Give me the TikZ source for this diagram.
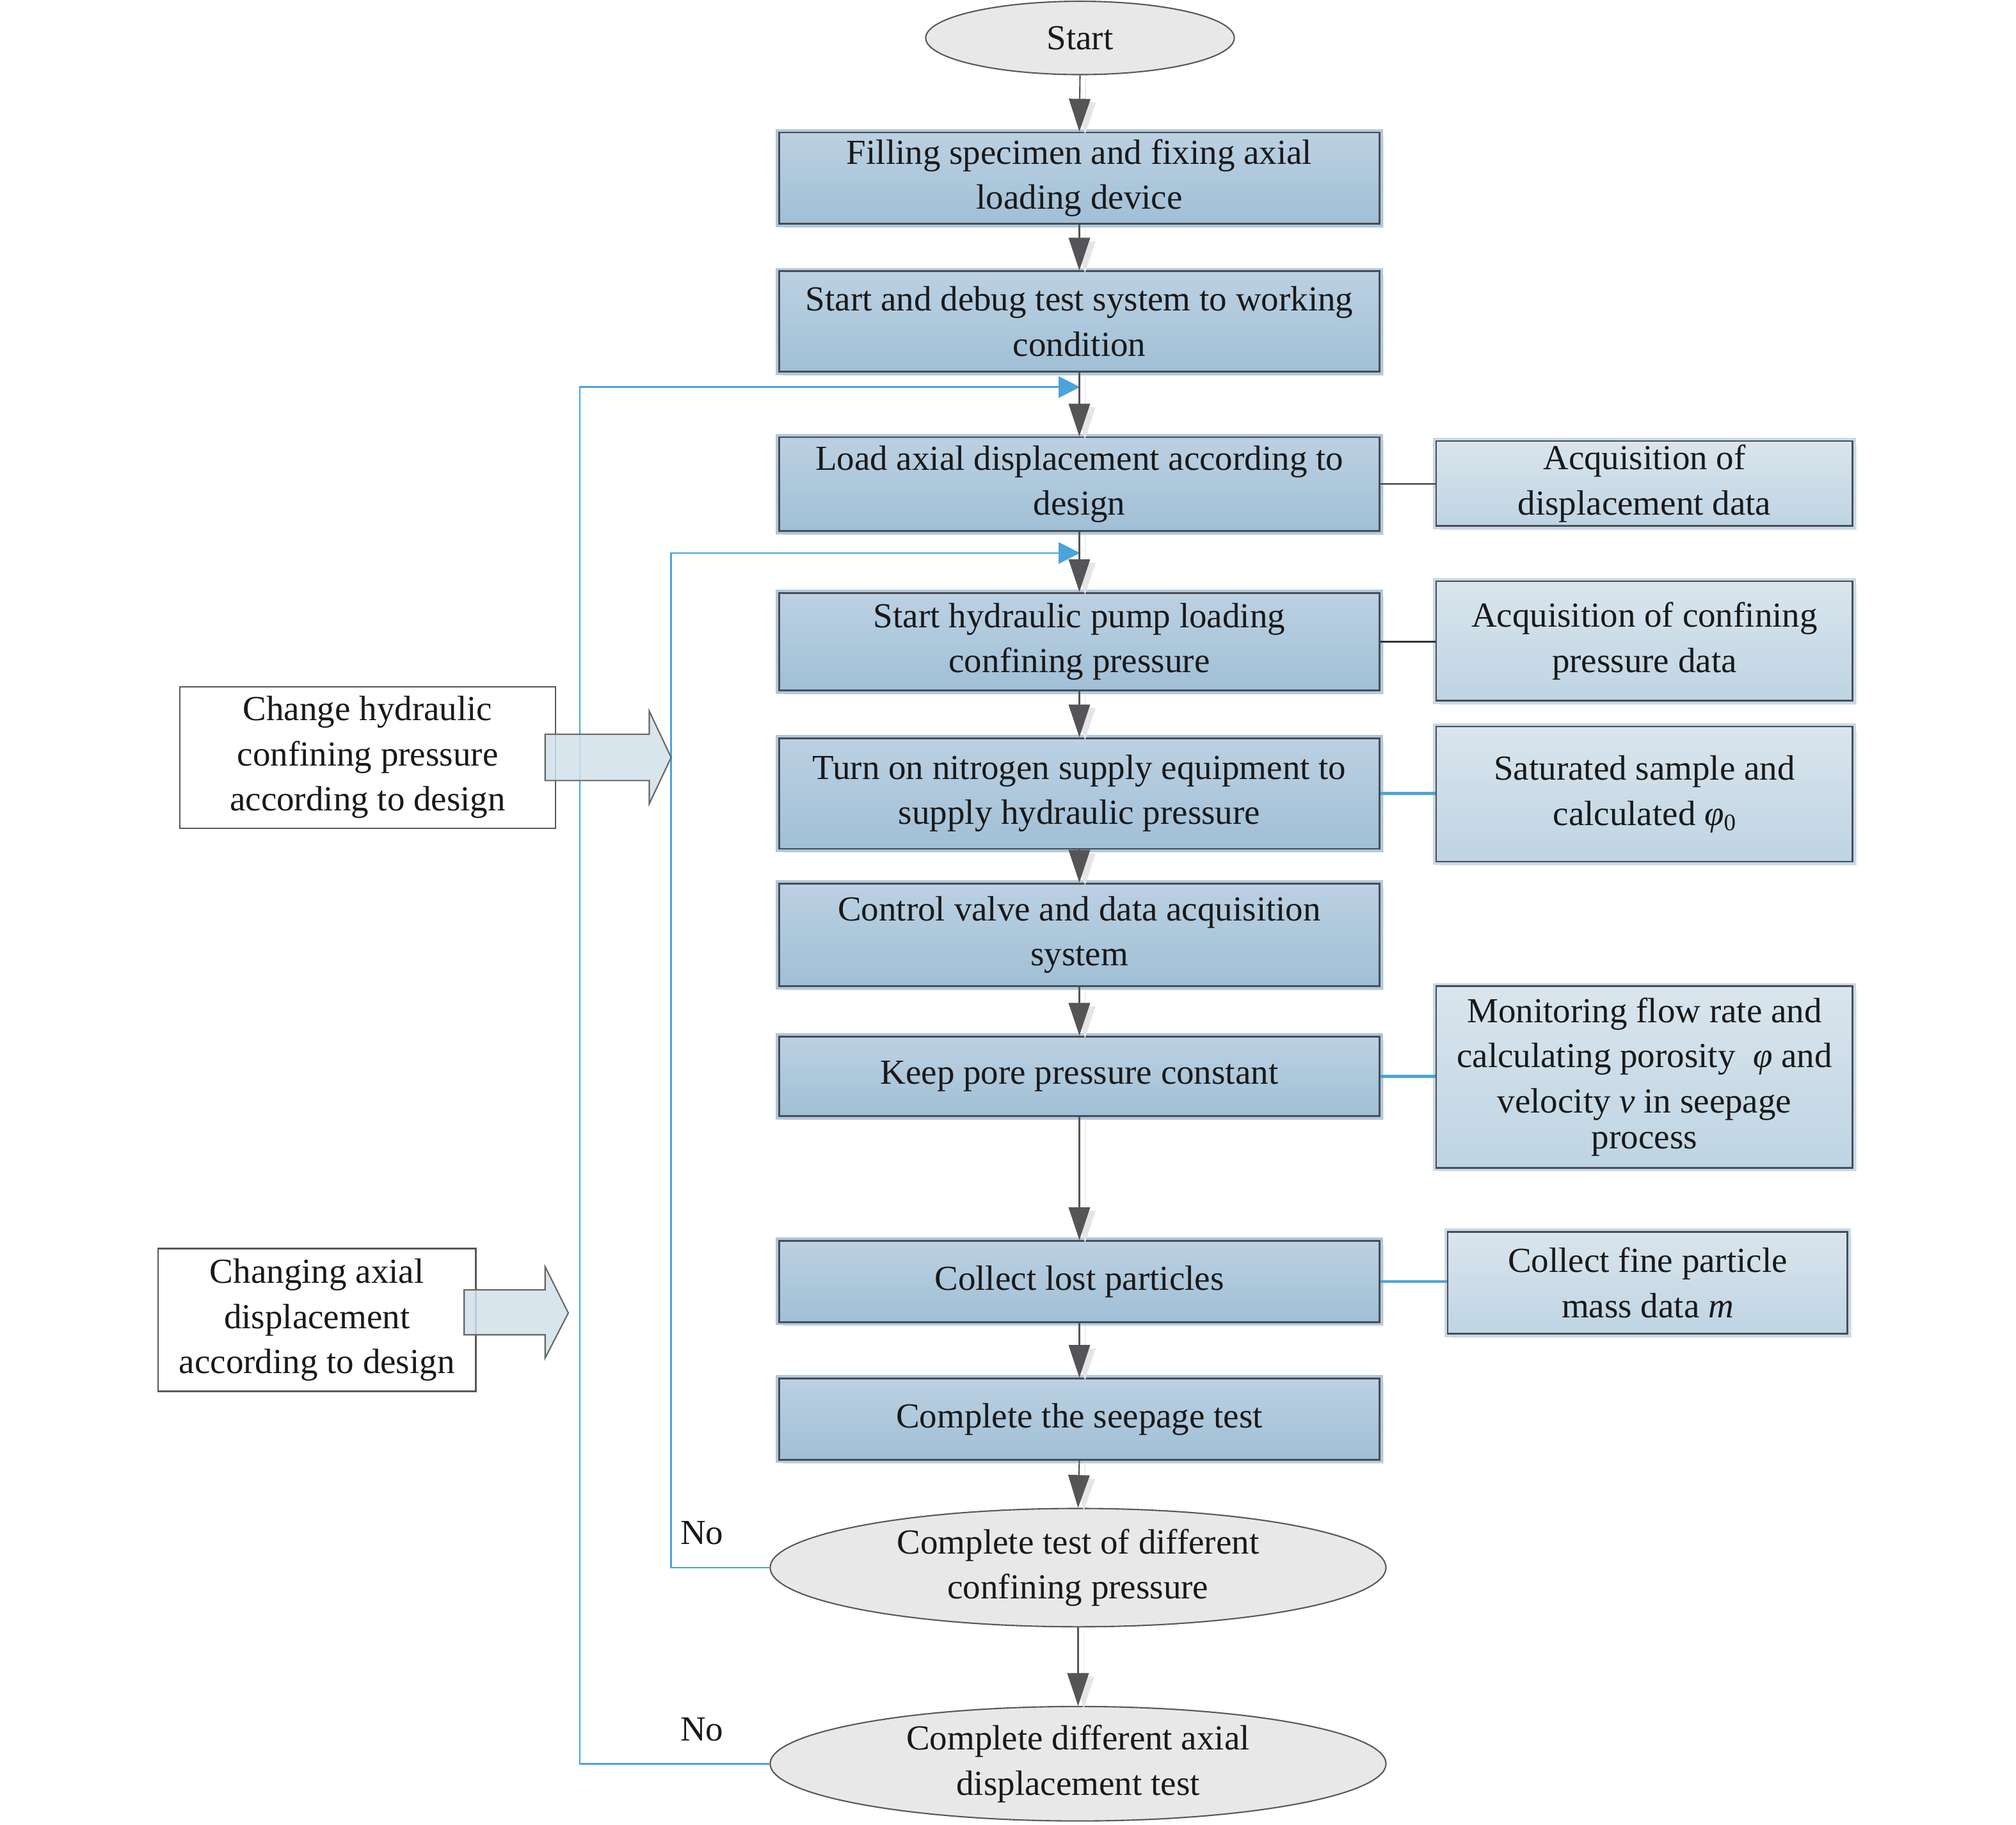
\documentclass[tikz,border=0pt]{standalone}
\usepackage{fontspec}
\setmainfont{Liberation Serif}
\usetikzlibrary{arrows.meta,shapes.geometric,shadows}
\definecolor{mtop}{RGB}{188,209,226}
\definecolor{mbot}{RGB}{160,191,214}
\definecolor{mrim}{RGB}{176,200,220}
\definecolor{stop}{RGB}{218,229,237}
\definecolor{sbot}{RGB}{190,212,227}
\definecolor{srim}{RGB}{200,217,230}
\definecolor{bordc}{RGB}{72,78,86}
\definecolor{linec}{RGB}{85,85,88}
\definecolor{loopc}{RGB}{75,163,219}
\definecolor{ovalc}{RGB}{232,232,232}
\definecolor{blockc}{RGB}{210,224,234}
\begin{document}
\begin{tikzpicture}[x=0.5697pt, y=-0.5697pt,
  sz/.style 2 args={minimum width=#1*0.5697pt, minimum height=#2*0.5697pt},
  txt/.style={font=\fontsize{15.6}{20}\selectfont, align=center, text=black!90},
  mainbox/.style={txt, rectangle, inner sep=0pt, draw=bordc, line width=0.8pt,
    general shadow={fill=black!10, shadow xshift=1.8pt, shadow yshift=-1.8pt},
    preaction={draw=mrim, line width=3pt},
    top color=mtop, bottom color=mbot},
  sidebox/.style={mainbox, preaction={draw=srim, line width=3pt},
    top color=stop, bottom color=sbot},
  leftbox/.style={txt, rectangle, inner sep=0pt, draw=black!65, line width=0.7pt, fill=white},
  oval/.style={txt, ellipse, inner xsep=0pt, inner ysep=-6pt, draw=black!65, line width=0.6pt, fill=ovalc},
  flow/.style={draw=linec, line width=0.6pt, -{Triangle[length=14.5pt, width=9.5pt]},
    preaction={draw=black!10, transform canvas={xshift=2.5pt, yshift=-1.5pt}}},
  loopline/.style={draw=loopc, line width=0.7pt, -{Triangle[length=9.5pt, width=9.5pt]}},
  sideline/.style={draw=loopc, line width=1.2pt},
  darkline/.style={draw=black!80, line width=0.6pt},
  blockarrow/.style={draw=black!60, line width=0.6pt, fill=blockc, fill opacity=0.85}
]
\useasboundingbox (0,0) rectangle (1568,1419);

% main column
\node[oval, sz={240}{57}] (start) at (840,29.5) {Start};
\node[mainbox, sz={467}{71}] (b1) at (839.5,138.5) {Filling specimen and fixing axial\\loading device};
\node[mainbox, sz={467}{78}] (b2) at (839.5,250) {Start and debug test system to working\\condition};
\node[mainbox, sz={467}{73}] (b3) at (839.5,376.5) {Load axial displacement according to\\design};
\node[mainbox, sz={467}{76}] (b4) at (839.5,499) {Start hydraulic pump loading\\confining pressure};
\node[mainbox, sz={467}{86}] (b5) at (839.5,617) {Turn on nitrogen supply equipment to\\supply hydraulic pressure};
\node[mainbox, sz={467}{80}] (b6) at (839.5,727) {Control valve and data acquisition\\system};
\node[mainbox, sz={467}{62}] (b7) at (839.5,837) {Keep pore pressure constant};
\node[mainbox, sz={467}{63}] (b8) at (839.5,996.5) {Collect lost particles};
\node[mainbox, sz={467}{63}] (b9) at (839.5,1103.5) {Complete the seepage test};
\node[oval, sz={479}{92}] (e2) at (838.5,1219) {Complete test of different\\confining pressure};
\node[oval, sz={479}{89}] (e3) at (838.5,1371.5) {Complete different axial\\displacement test};

% side boxes
\node[sidebox, sz={324}{66}] (r1) at (1279,376) {Acquisition of\\displacement data};
\node[sidebox, sz={324}{93}] (r2) at (1279,498.5) {Acquisition of confining\\pressure data};
\node[sidebox, sz={324}{105}] (r3) at (1279,617.5) {Saturated sample and\\calculated {\itshape φ}\raisebox{-0.35ex}{\fontsize{10.5}{12}\selectfont 0}};
\node[sidebox, sz={324}{141}] (r4) at (1279,837.5) {Monitoring flow rate and\\calculating porosity \ {\itshape φ} and\\velocity {\itshape v} in seepage\\[-4pt]process};
\node[sidebox, sz={311}{79}] (r5) at (1281.5,997.5) {Collect fine particle\\mass data {\itshape m}};

% left boxes
\node[leftbox, sz={292}{110}] (l1) at (286,589) {Change hydraulic\\confining pressure\\according to design};
\node[leftbox, sz={247}{111}] (l2) at (246.5,1026.5) {Changing axial\\displacement\\according to design};

% labels
\node[txt, anchor=west] (no1) at (523,1192) {No};
\node[txt, anchor=west] (no2) at (523,1345) {No};

% loop-back lines
\coordinate (j1) at (840,301);
\coordinate (j2) at (840,430);
\coordinate (c1) at (451,1371.5);
\coordinate (c2) at (522,1219);
\draw[loopline] (e3.west) -- (c1) |- (j1);
\draw[loopline] (e2.west) -- (c2) |- (j2);

% main flow
\draw[flow] (start.south) -- (b1.north);
\draw[flow] (b1.south) -- (b2.north);
\draw[flow] (b2.south) -- (b3.north);
\draw[flow] (b3.south) -- (b4.north);
\draw[flow] (b4.south) -- (b5.north);
\draw[flow] (b5.south) -- (b6.north);
\draw[flow] (b6.south) -- (b7.north);
\draw[flow] (b7.south) -- (b8.north);
\draw[flow] (b8.south) -- (b9.north);
\draw[flow] (b9.south) -- (e2.north);
\draw[flow] (e2.south) -- (e3.north);

% side connections
\draw[darkline] (b3.east) -- (b3.east -| r1.west);
\draw[darkline] (b4.east) -- (b4.east -| r2.west);
\draw[sideline] (b5.east) -- (b5.east -| r3.west);
\draw[sideline] (b7.east) -- (b7.east -| r4.west);
\draw[sideline] (b8.east) -- (b8.east -| r5.west);

% block arrows
\draw[blockarrow] (424,571) -- (505,571) -- (505,553) -- (522,589) -- (505,625) -- (505,607) -- (424,607) -- cycle;
\draw[blockarrow] (361,1003) -- (424,1003) -- (424,985) -- (442,1021) -- (424,1056) -- (424,1038) -- (361,1038) -- cycle;
\end{tikzpicture}
\end{document}
